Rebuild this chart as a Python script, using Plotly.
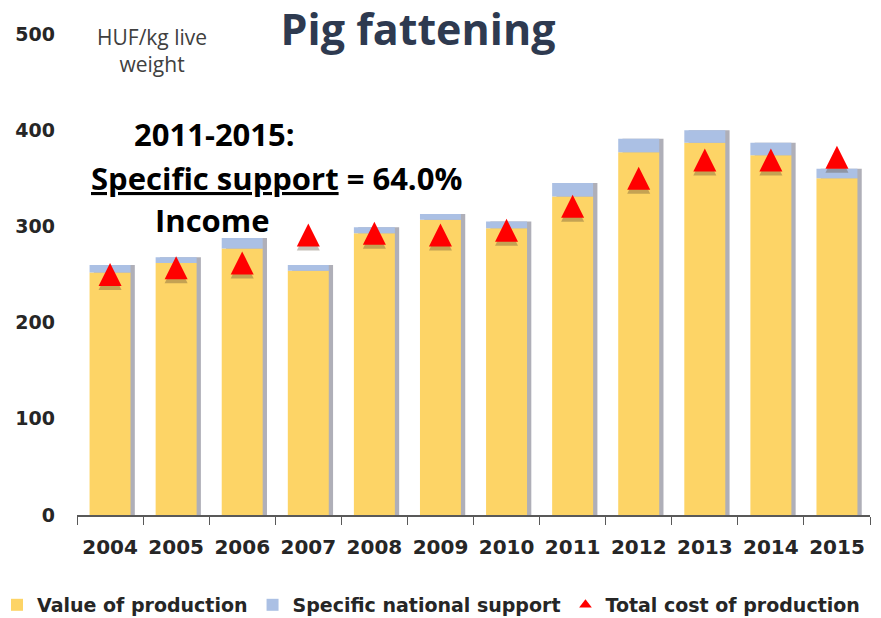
import plotly.graph_objects as go

years = ["2004", "2005", "2006", "2007", "2008", "2009", "2010", "2011", "2012", "2013", "2014", "2015"]
value_of_production = [252, 262, 277, 254, 293, 307, 298, 331, 377, 387, 374, 350]
specific_support = [8, 6, 11, 6, 6, 6, 7, 14, 14, 13, 13, 10]
total_cost = [250, 257, 262, 291, 293, 291, 296, 321, 350, 369, 369, 372]

totals = [v + s for v, s in zip(value_of_production, specific_support)]

YELLOW = "#FDD466"
BLUE = "#ABC0E4"
RED = "#FF0000"
TXT = "#262626"
TRI = 23  # triangle marker size (px)

fig = go.Figure()

# soft shadow of bars (same totals, drawn slightly to the right)
fig.add_trace(go.Bar(x=years, y=totals, marker=dict(color="rgba(110,110,125,0.55)", line_width=0),
                     width=0.62, offset=-0.245, showlegend=False, hoverinfo="skip"))
fig.add_trace(go.Bar(x=years, y=value_of_production, name="Value of production",
                     marker=dict(color=YELLOW, line_width=0), width=0.62, offset=-0.31))
fig.add_trace(go.Bar(x=years, y=specific_support, name="Specific national support",
                     marker=dict(color=BLUE, line_width=0), width=0.62, offset=-0.31,
                     base=value_of_production))
# triangle shadow (same values, a few px lower)
fig.add_trace(go.Scatter(x=years, y=total_cost, mode="markers",
                         marker=dict(symbol="arrow-down", angle=180, size=TRI, standoff=TRI / 2 - 4,
                                     color="rgba(90,70,50,0.35)", line_width=0),
                         showlegend=False, hoverinfo="skip"))
fig.add_trace(go.Scatter(x=years, y=total_cost, mode="markers", name="Total cost of production",
                         marker=dict(symbol="arrow-down", angle=180, size=TRI, standoff=TRI / 2,
                                     color=RED, line_width=0),
                         showlegend=False))
# legend entry for the triangles
fig.add_trace(go.Scatter(x=[None], y=[None], mode="markers", name="Total cost of production",
                         marker=dict(symbol="triangle-up", size=11, color=RED)))

fig.update_layout(
    barmode="overlay",
    width=881, height=618,
    margin=dict(l=77, r=11, t=34, b=103, autoexpand=False),
    paper_bgcolor="white", plot_bgcolor="white",
    showlegend=True,
    legend=dict(orientation="h", x=-0.1009, xanchor="left", y=-0.187, yanchor="middle",
                font=dict(family="DejaVu Sans, sans-serif", size=19, color=TXT, weight="bold"),
                itemwidth=30, bgcolor="rgba(0,0,0,0)", borderwidth=0),
    title=dict(text="Pig fattening", x=0.4745, xanchor="center", y=0.976, yanchor="top",
               font=dict(family="Open Sans, sans-serif", size=43, color="#2E3A50", weight="bold")),
)

fig.update_yaxes(range=[0, 500], tickvals=[0, 100, 200, 300, 400, 500], showgrid=False,
                 zeroline=False, showline=False, ticks="", ticklabelstandoff=21, automargin=False,
                 tickfont=dict(family="DejaVu Sans, sans-serif", size=19, color=TXT, weight="bold"))
fig.update_xaxes(type="category", range=[-0.5, len(years) - 0.5], showline=True, linecolor="#595959",
                 linewidth=1.5, ticks="outside", ticklen=8, tickcolor="#595959", tickwidth=1.3,
                 tickson="boundaries", ticklabelstandoff=13, showgrid=False, automargin=False, tickangle=0,
                 tickfont=dict(family="DejaVu Sans, sans-serif", size=20, color=TXT, weight="bold"))

ann_font = dict(family="Open Sans, sans-serif", size=31, color="black", weight="bold")
fig.add_annotation(text="HUF/kg live<br>weight", xref="paper", yref="paper", x=0.0946, y=0.966,
                   xanchor="center", yanchor="middle", showarrow=False,
                   font=dict(family="Open Sans, sans-serif", size=21, color="#404040"))
fig.add_annotation(text="2011-2015:", xref="paper", yref="paper", x=0.1728, y=0.793,
                   xanchor="center", yanchor="middle", showarrow=False, font=ann_font)
fig.add_annotation(text="<u>Specific support</u> = 64.0%", xref="paper", yref="paper", x=0.251, y=0.70,
                   xanchor="center", yanchor="middle", showarrow=False, font=ann_font)
fig.add_annotation(text="Income", xref="paper", yref="paper", x=0.1715, y=0.613,
                   xanchor="center", yanchor="middle", showarrow=False, font=ann_font)

fig.write_html("out.html", config={"displayModeBar": False},
               post_script="document.body.style.margin='0';document.body.style.overflow='hidden';")
